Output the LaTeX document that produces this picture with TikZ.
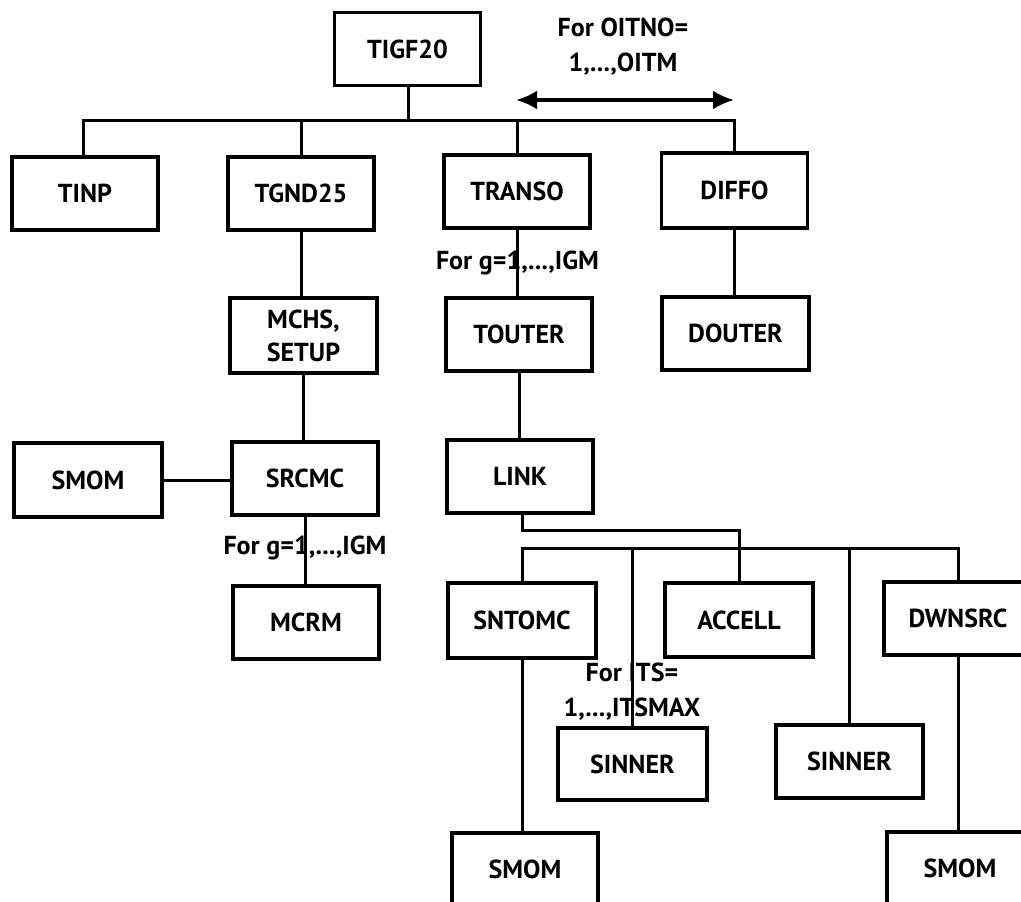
\documentclass[tikz,border=0pt]{standalone}
\usepackage{fontspec}
\setmainfont{PT Sans}
\usetikzlibrary{arrows.meta}
\tikzset{
  box/.style={draw=black, line width=3.6pt, rectangle, minimum width=146pt, minimum height=73pt, inner sep=0pt, font=\fontsize{26}{30}\selectfont\bfseries},
  conn/.style={draw=black, line width=3pt},
  lbl/.style={inner sep=0pt, align=center, font=\fontsize{26}{35}\selectfont\bfseries},
  dblarrow/.style={line width=3.6pt, {Latex[length=21pt,width=19pt]}-{Latex[length=21pt,width=19pt]}}
}
\begin{document}
\begin{tikzpicture}[x=1pt,y=-1pt]
\useasboundingbox (0,0) rectangle (1021,902);
% boxes
\node[box] (tigf) at (407.5,49) {TIGF20};
\node[box] (tinp) at (85,193.5) {TINP};
\node[box] (tgnd) at (301,193.5) {TGND25};
\node[box] (transo) at (517,191.5) {TRANSO};
\node[box, minimum height=75pt] (diffo) at (734.5,190.5) {DIFFO};
\node[box, minimum width=147pt, minimum height=75pt, align=center, font=\fontsize{26}{33}\selectfont\bfseries] (mchs) at (303.5,335.5) {MCHS,\\SETUP};
\node[box] (touter) at (519,334.5) {TOUTER};
\node[box, minimum width=147pt] (douter) at (735.5,333.5) {DOUTER};
\node[box, minimum width=148pt, minimum height=74pt] (smoma) at (88,480) {SMOM};
\node[box] (srcmc) at (305,478.5) {SRCMC};
\node[box] (link) at (520,476.5) {LINK};
\node[box] (mcrm) at (306,622.5) {MCRM};
\node[box, minimum width=148pt, minimum height=75pt] (sntomc) at (522,620.5) {SNTOMC};
\node[box, minimum width=148pt, minimum height=74pt] (accell) at (739,620) {ACCELL};
\node[box, minimum width=148pt] (dwnsrc) at (958,618.5) {DWNSRC};
\node[box, minimum width=149pt, minimum height=72pt] (sinnera) at (632.5,764) {SINNER};
\node[box, minimum width=147pt] (sinnerb) at (849.5,761.5) {SINNER};
\node[box, minimum height=72pt] (smomb) at (525,869) {SMOM};
\node[box, minimum height=72pt] (smomc) at (960,868) {SMOM};
% labels
\node[lbl] (lOITNO) at (623,47) {For OITNO=\\1,...,OITM};
\node[lbl] (lgA) at (517.5,263) {For g=1,...,IGM};
\node[lbl] (lgB) at (305,548) {For g=1,...,IGM};
\node[lbl] (lITS) at (632,692) {For ITS=\\1,...,ITSMAX};
% coordinates
\coordinate (busA) at (408,120);
\coordinate (arrL) at (516,100);
\coordinate (arrR) at (734,100);
\coordinate (linkbus) at (522,530);
\coordinate (busB) at (740,548);
% top tree
\draw[conn] (tigf.south -| busA) -- (busA);
\draw[conn] (tinp.north -| 83,0) |- (busA) -| (diffo.north);
\draw[conn] (tgnd.north) -- (tgnd.north |- busA);
\draw[conn] (transo.north) -- (transo.north |- busA);
\draw[dblarrow] (arrL) -- (arrR);
% left column
\draw[conn] (tgnd.south) -- (mchs.north -| tgnd.south);
\draw[conn] (mchs.south) -- (srcmc.north -| mchs.south);
\draw[conn] (smoma.east) -- (srcmc.west |- smoma.east);
\draw[conn] (srcmc.south) -- (mcrm.north -| srcmc.south);
% middle column
\draw[conn] (transo.south) -- (touter.north -| transo.south);
\draw[conn] (touter.south) -- (link.north -| touter.south);
\draw[conn] (diffo.south) -- (douter.north -| diffo.south);
% link tree
\draw[conn] (link.south -| linkbus) -- (linkbus) -| (accell.north);
\draw[conn] (sntomc.north) |- (busB) -| (dwnsrc.north);
\draw[conn] (sinnera.north) -- (sinnera.north |- busB);
\draw[conn] (sinnerb.north) -- (sinnerb.north |- busB);
\draw[conn] (sntomc.south) -- (smomb.north -| sntomc.south);
\draw[conn] (dwnsrc.south) -- (smomc.north -| dwnsrc.south);
\end{tikzpicture}
\end{document}
